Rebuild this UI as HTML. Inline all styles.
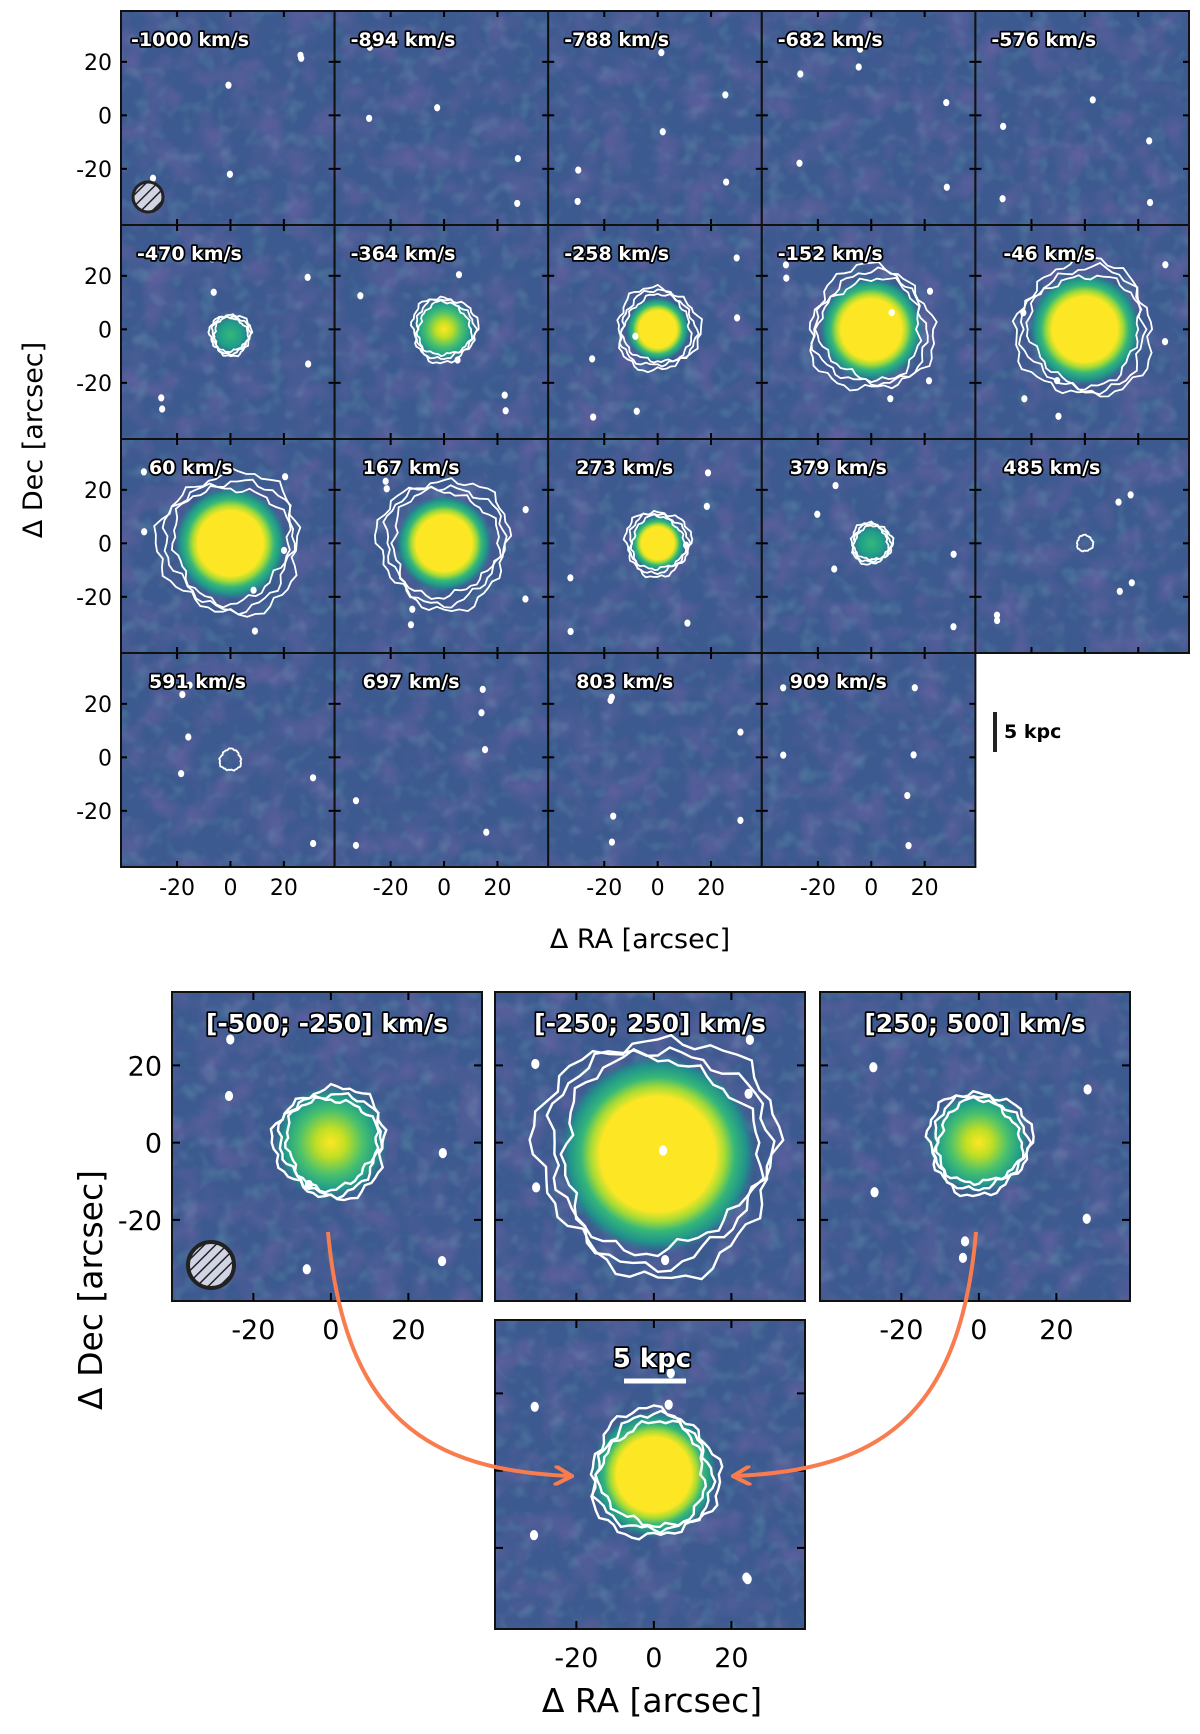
<!DOCTYPE html>
<html><head><meta charset="utf-8"><style>
html,body{margin:0;padding:0;background:#fff;}
svg{display:block;font-family:"DejaVu Sans","Liberation Sans",sans-serif;}
.lab{font-weight:bold;fill:#fff;stroke:#000;stroke-width:3.5px;paint-order:stroke;stroke-linejoin:round;}
.tick{fill:#000;}
</style></head><body>
<svg id="fig" width="1200" height="1734" viewBox="0 0 1200 1734" xmlns="http://www.w3.org/2000/svg">
<defs>
<filter id="noise" x="0" y="0" width="100%" height="100%">
<feTurbulence type="fractalNoise" baseFrequency="0.035" numOctaves="2" seed="4"/>
<feColorMatrix type="matrix" values="0 0 0 0 0.27  0 0 0 0 0.14  0 0 0 0 0.45  -1.6 0 0 0 0.95"/>
</filter>
<filter id="noise2" x="0" y="0" width="100%" height="100%">
<feTurbulence type="fractalNoise" baseFrequency="0.06" numOctaves="2" seed="11"/>
<feColorMatrix type="matrix" values="0 0 0 0 0.2  0 0 0 0 0.5  0 0 0 0 0.55  -1.8 0 0 0 0.9"/>
</filter>
<radialGradient id="gFull"><stop offset="0" stop-color="#fde725"/><stop offset="0.58" stop-color="#fde725"/><stop offset="0.68" stop-color="#a5db36"/><stop offset="0.78" stop-color="#35b779"/><stop offset="0.9" stop-color="#21918c"/><stop offset="1" stop-color="#2a788e" stop-opacity="0"/></radialGradient>
<radialGradient id="gMid"><stop offset="0" stop-color="#fde725"/><stop offset="0.25" stop-color="#c2df23"/><stop offset="0.55" stop-color="#4ac16d"/><stop offset="0.8" stop-color="#1f9e89"/><stop offset="1" stop-color="#2a788e" stop-opacity="0"/></radialGradient>
<radialGradient id="gLow"><stop offset="0" stop-color="#35b779"/><stop offset="0.5" stop-color="#1f9e89"/><stop offset="1" stop-color="#2a788e" stop-opacity="0"/></radialGradient>
<pattern id="hatch" width="8" height="8" patternUnits="userSpaceOnUse" patternTransform="rotate(45)"><rect width="8" height="8" fill="#d0d4e4"/><line x1="0" y1="0" x2="0" y2="8" stroke="#222" stroke-width="3"/></pattern>
<marker id="arr" viewBox="0 0 10 10" refX="8" refY="5" markerWidth="5" markerHeight="5" orient="auto"><path d="M0,0 L9,5 L0,10" fill="none" stroke="#f97c4e" stroke-width="2"/></marker>
</defs>
</svg>
<script>
// ---- data ----
const velocities=[-1000,-894,-788,-682,-576,-470,-364,-258,-152,-46,60,167,273,379,485,591,697,803,909];
const peakLevel=[0,0,0,0,0,0.45,0.6,1,1,1,1,1,1,0.5,0,0,0,0,0]; // 0..1
const coreRadius=[0,0,0,0,0,6,8,8,13,14,14,12,7,6,0,0,0,0,0]; // arcsec
const contourRadius=[0,0,0,0,0,7,11,14,21,23,24,22,11,7,3,4,0,0,0]; // arcsec
const binLabels=["[-500; -250] km/s","[-250; 250] km/s","[250; 500] km/s"];
const binPeak=[0.75,1,0.75];
const binCore=[10,17,9];
const binContour=[13,28,12];
const sumCore=11, sumContour=15;
const tickVals=[-20,0,20];
const XMIN=-41,XMAX=39,YMIN=-41,YMAX=39;

const NS="http://www.w3.org/2000/svg";
const svg=document.getElementById('fig');
function mk(tag,attrs,parent){const e=document.createElementNS(NS,tag);for(const k in attrs)e.setAttribute(k,attrs[k]);(parent||svg).appendChild(e);return e;}

function panel(x0,y0,w,h,opt){
  const g=mk('g',{});
  
  
  const sx=v=>x0+(v-XMIN)/(XMAX-XMIN)*w;
  const sy=v=>y0+(YMAX-v)/(YMAX-YMIN)*h;
  const clipId='c'+opt.name;
  const cp=mk('clipPath',{id:clipId},g);mk('rect',{x:x0,y:y0,width:w,height:h},cp);
  const inner=mk('g',{'clip-path':'url(#'+clipId+')'},g);
  mk('rect',{x:x0,y:y0,width:w,height:h,fill:'#3c5a8f'},inner);
  mk('rect',{x:x0,y:y0,width:w,height:h,filter:'url(#noise)',opacity:0.55},inner);
  mk('rect',{x:x0,y:y0,width:w,height:h,filter:'url(#noise2)',opacity:0.35},inner);
  const cx=opt.cx||0, cy=opt.cy||0;
  if(opt.peak>0&&opt.core>0){
    const grad=opt.peak>=0.95?'url(#gFull)':(opt.peak>=0.6?'url(#gMid)':'url(#gLow)');
    const r=(opt.core*1.5)/(XMAX-XMIN)*w;
    const blob=mk('ellipse',{cx:sx(cx),cy:sy(cy),rx:r,ry:r,fill:grad},inner);
    
    
  }
  if(opt.contour>0){
    const scales=opt.contour<5?[1]:[1.1,1.0,0.9];
    scales.forEach((s,k)=>{
      const R=opt.contour*s;let d='';
      const n=56;
      for(let i=0;i<=n;i++){
        const a=i/n*2*Math.PI;
        const wob=1+0.06*Math.sin(3*a+k+opt.seed)+0.04*Math.sin(9*a+2*k)+0.03*Math.sin(19*a+opt.seed*2);
        const px=sx(cx+R*wob*Math.cos(a)), py=sy(cy+R*wob*Math.sin(a));
        d+=(i?'L':'M')+px.toFixed(1)+','+py.toFixed(1);
      }
      const p=mk('path',{d:d+'Z',fill:'none',stroke:'#fff','stroke-width':opt.big?2.4:1.8},inner);
      
      
    });
  }
  for(let i=0;i<6;i++){
    const px=x0+w*(0.1+0.8*((Math.sin(opt.seed*7.3+i*2.1)+1)/2));
    const py=y0+h*(0.15+0.75*((Math.cos(opt.seed*3.7+i*1.7)+1)/2));
    mk('ellipse',{cx:px,cy:py,rx:opt.big?3.5:2.5,ry:opt.big?4.5:3,fill:'#fff',stroke:'#fff','stroke-width':1.2},inner);
  }
  mk('rect',{x:x0,y:y0,width:w,height:h,fill:'none',stroke:'#111','stroke-width':2},g);
  const tl=opt.big?8:6;
  const fs=opt.big?27:22;
  tickVals.forEach(t=>{
    mk('line',{x1:sx(t),x2:sx(t),y1:y0,y2:y0+tl,stroke:'#000','stroke-width':2},g);
    mk('line',{x1:sx(t),x2:sx(t),y1:y0+h,y2:y0+h-tl,stroke:'#000','stroke-width':2},g);
    mk('line',{x1:x0,x2:x0+tl,y1:sy(t),y2:sy(t),stroke:'#000','stroke-width':2},g);
    mk('line',{x1:x0+w,x2:x0+w-tl,y1:sy(t),y2:sy(t),stroke:'#000','stroke-width':2},g);
    if(opt.xlab){const tx=mk('text',{x:sx(t),y:y0+h+(opt.big?38:28),'text-anchor':'middle',class:'tick',style:'font-size:'+fs+'px'},g);tx.textContent=t;
      }
    if(opt.ylab){const ty=mk('text',{x:x0-(opt.big?10:9),y:sy(t)+(opt.big?10:8),'text-anchor':'end',class:'tick',style:'font-size:'+fs+'px'},g);ty.textContent=t;
      }
  });
  if(opt.label){
    const t=mk('text',opt.big?{x:x0+w/2,y:y0+40,'text-anchor':'middle',class:'lab',style:'font-size:25px'}:{x:x0+(opt.lx||12),y:y0+35,class:'lab',style:'font-size:19px'},g);
    t.textContent=opt.label;
    
  }
  return {sx,sy,g};
}

// ---- top grid ----
const GX=121,GY=11,PW=213.6,PH=214;
velocities.forEach((v,i)=>{
  const col=i%5,row=Math.floor(i/5);
  const cy= (i===5)?-2:0;
  panel(GX+col*PW,GY+row*PH,PW,PH,{name:'channel-'+v,peak:peakLevel[i],core:coreRadius[i],contour:contourRadius[i],
    label:v+' km/s',lx:(v===-1000?10:(String(v).length<=3?28:16)),seed:i+1,cy:(velocities[i]===591?-1:cy),
    xlab:row===3,ylab:col===0});
});
let b=mk('g',{});
mk('circle',{cx:148,cy:197,r:15,fill:'url(#hatch)',stroke:'#222','stroke-width':3},b);
let sb=mk('g',{});
mk('line',{x1:995,x2:995,y1:712,y2:752,stroke:'#222','stroke-width':4},sb);
let st=mk('text',{x:1004,y:738,style:'font-size:19px','font-weight':'bold',fill:'#000'},sb);st.textContent='5 kpc';
let yt=mk('text',{x:0,y:0,style:'font-size:27px','text-anchor':'middle',transform:'translate(42,440) rotate(-90)'});yt.textContent='Δ Dec [arcsec]';

let xt=mk('text',{x:640,y:948,style:'font-size:27px','text-anchor':'middle'});xt.textContent='Δ RA [arcsec]';


// ---- bottom panels ----
const BX=[172,495,820],BY=992,BW=310,BH=309;
binLabels.forEach((l,i)=>{
  panel(BX[i],BY,BW,BH,{name:'bin-'+i,peak:binPeak[i],core:binCore[i],contour:binContour[i],label:l,seed:30+i,big:true,
    xlab:i!==1,ylab:i===0,cy:i===1?-3:0,cx:i===1?1:0});
});
panel(495,1320,BW,BH,{name:'bin-sum',peak:1,core:sumCore,contour:sumContour,label:null,seed:40,big:true,xlab:true,ylab:false,cy:-1});
let b2=mk('g',{});
mk('circle',{cx:211,cy:1265,r:23,fill:'url(#hatch)',stroke:'#222','stroke-width':4},b2);
let sb2=mk('g',{});
let st2=mk('text',{x:652,y:1367,style:'font-size:26px','font-weight':'bold','text-anchor':'middle',class:'lab'},sb2);st2.textContent='5 kpc';
mk('line',{x1:624,x2:686,y1:1381,y2:1381,stroke:'#fff','stroke-width':5},sb2);
let a1=mk('path',{d:'M328,1232 C345,1420 430,1470 570,1476',fill:'none',stroke:'#f97c4e','stroke-width':4,'marker-end':'url(#arr)'});

let a2=mk('path',{d:'M976,1232 C960,1420 875,1470 735,1476',fill:'none',stroke:'#f97c4e','stroke-width':4,'marker-end':'url(#arr)'});

let yt2=mk('text',{x:0,y:0,style:'font-size:33px','text-anchor':'middle',transform:'translate(102,1290) rotate(-90)'});yt2.textContent='Δ Dec [arcsec]';

let xt2=mk('text',{x:652,y:1712,style:'font-size:33px','text-anchor':'middle'});xt2.textContent='Δ RA [arcsec]';

</script>
</body></html>
